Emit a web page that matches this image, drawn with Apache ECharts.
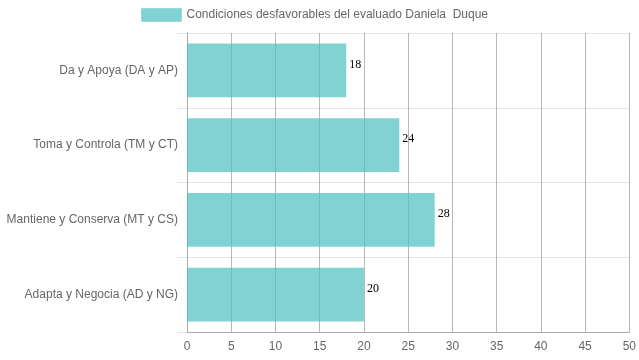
<!DOCTYPE html>
<html>
<head>
<meta charset="utf-8">
<script src="https://cdn.jsdelivr.net/npm/echarts@6/dist/echarts.min.js"></script>
<style>html,body{margin:0;padding:0;background:#fff}#c{width:639px;height:360px}</style>
</head>
<body>
<div id="c"></div>
<script>
const categories = ["Da y Apoya (DA y AP)", "Toma y Controla (TM y CT)", "Mantiene y Conserva (MT y CS)", "Adapta y Negocia (AD y NG)"];
const values = [18, 24, 28, 20];
const seriesName = "Condiciones desfavorables del evaluado Daniela  Duque";
const xMin = 0, xMax = 50, xStep = 5;

const chart = echarts.init(document.getElementById('c'), null, {renderer: 'canvas'});
chart.setOption({
  animation: false,
  legend: {
    top: 8, left: 141, padding: 0,
    itemWidth: 40, itemHeight: 13, itemGap: 6,
    textStyle: {color: '#666', fontFamily: 'Liberation Sans', fontSize: 12},
    data: [{name: seriesName, icon: 'rect', itemStyle: {color: 'rgba(75,192,192,0.7)', borderColor: 'rgba(75,192,192,0.35)', borderWidth: 1}}]
  },
  grid: {left: 187, right: 9, top: 33, bottom: 28, containLabel: false},
  xAxis: {
    type: 'value', min: xMin, max: xMax, interval: xStep,
    axisLine: {show: true, lineStyle: {color: '#aaa'}},
    axisTick: {show: false},
    axisLabel: {color: '#666', fontFamily: 'Liberation Sans', fontSize: 12, margin: 9},
    splitLine: {show: true, lineStyle: {color: 'rgba(0,0,0,0.28)', width: 1}}
  },
  yAxis: {
    type: 'category', data: categories, inverse: true,
    axisLine: {show: true, lineStyle: {color: '#aaa'}},
    axisTick: {show: true, length: 10, lineStyle: {color: '#e6e6e6'}},
    axisLabel: {color: '#666', fontFamily: 'Liberation Sans', fontSize: 12, margin: 9},
    splitLine: {show: true, lineStyle: {color: '#e6e6e6'}}
  },
  series: [{
    name: seriesName, type: 'bar', data: values,
    barCategoryGap: '28%',
    itemStyle: {color: 'rgba(75,192,192,0.7)'},
    label: {show: true, position: 'right', distance: 3, offset: [0, -6], color: '#000', fontFamily: 'Liberation Serif', fontSize: 12}
  }]
});
</script>
</body>
</html>
